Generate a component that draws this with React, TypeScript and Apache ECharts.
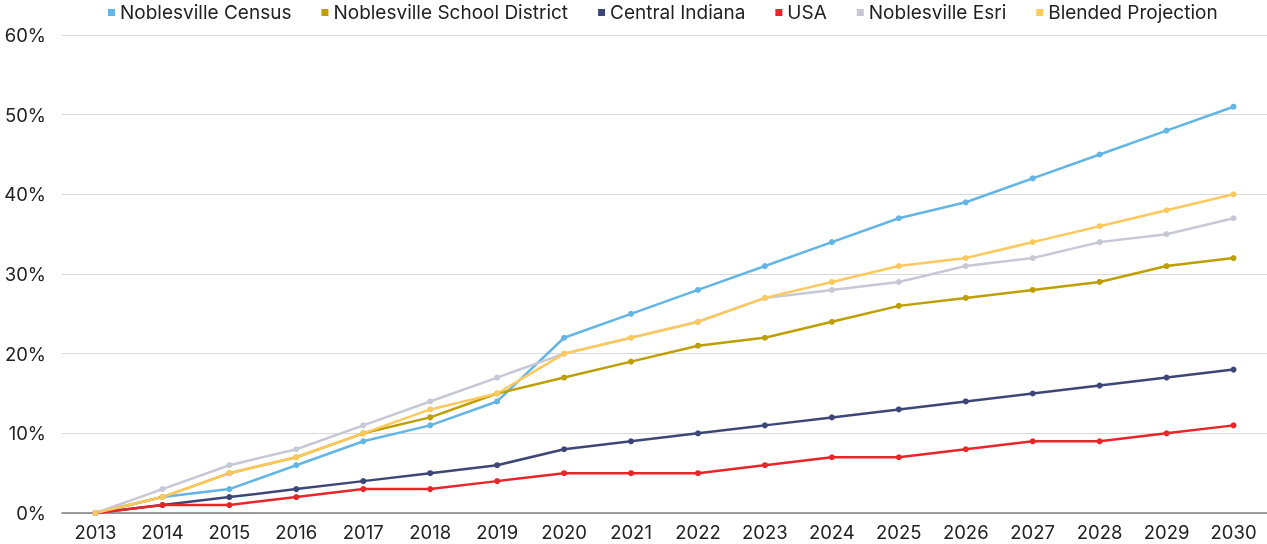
import React, { useEffect, useRef } from "react";
import * as echarts from "echarts";

const years = ["2013","2014","2015","2016","2017","2018","2019","2020","2021","2022","2023","2024","2025","2026","2027","2028","2029","2030"];
const census = [0,2,3,6,9,11,14,22,25,28,31,34,37,39,42,45,48,51];
const schoolDistrict = [0,2,5,7,10,12,15,17,19,21,22,24,26,27,28,29,31,32];
const centralIndiana = [0,1,2,3,4,5,6,8,9,10,11,12,13,14,15,16,17,18];
const usa = [0,1,1,2,3,3,4,5,5,5,6,7,7,8,9,9,10,11];
const esri = [0,3,6,8,11,14,17,20,22,24,27,28,29,31,32,34,35,37];
const blended = [0,2,5,7,10,13,15,20,22,24,27,29,31,32,34,36,38,40];

const seriesDefs = [
  { name: "Noblesville Census", data: census, color: "#62b5e5" },
  { name: "Noblesville School District", data: schoolDistrict, color: "#bf9e00" },
  { name: "Central Indiana", data: centralIndiana, color: "#3d4677" },
  { name: "USA", data: usa, color: "#e8262a" },
  { name: "Noblesville Esri", data: esri, color: "#c6c8d5" },
  { name: "Blended Projection", data: blended, color: "#fdc95c" },
];

const FONT = "Inter, 'Noto Sans', sans-serif";

export default function App() {
  const ref = useRef<HTMLDivElement>(null);
  useEffect(() => {
    if (!ref.current) return;
    const chart = echarts.init(ref.current, null, { renderer: "svg" });
    chart.setOption({
      animation: false,
      textStyle: { fontFamily: FONT },
      legend: {
        top: -2,
        left: 103,
        itemWidth: 7,
        itemHeight: 7,
        itemGap: 30,
        icon: "rect",
        textStyle: { fontSize: 19, color: "#222", fontFamily: FONT },
        data: seriesDefs.map((s) => s.name),
      },
      grid: { left: 62, right: 0, top: 35, bottom: 31, containLabel: false },
      xAxis: {
        type: "category",
        data: years,
        boundaryGap: true,
        axisLine: { lineStyle: { color: "#7f7f7f", width: 1.5 } },
        axisTick: { show: false },
        axisLabel: { color: "#222", fontSize: 18.5, margin: 9, fontFamily: FONT },
      },
      yAxis: {
        type: "value",
        min: 0,
        max: 60,
        interval: 10,
        axisLine: { show: false },
        axisTick: { show: false },
        splitLine: { lineStyle: { color: "#d9d9d9", width: 1.2 } },
        axisLabel: { color: "#222", fontSize: 18.5, margin: 16, formatter: "{value}%", fontFamily: FONT },
      },
      series: seriesDefs.map((s) => ({
        name: s.name,
        type: "line",
        data: s.data,
        color: s.color,
        symbol: "circle",
        symbolSize: 6,
        lineStyle: { width: 2.5, color: s.color },
        itemStyle: { color: s.color },
      })),
    });
    return () => chart.dispose();
  }, []);
  return <div ref={ref} style={{ position: "fixed", left: 0, top: 0, width: 1267, height: 544 }} />;
}
